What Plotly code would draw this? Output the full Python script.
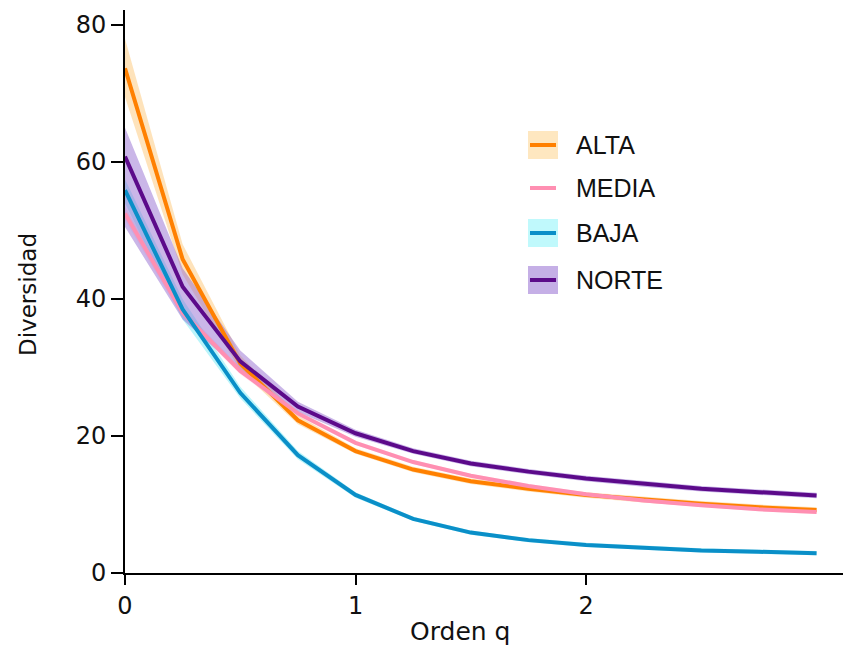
import plotly.graph_objects as go

q = [0, 0.25, 0.5, 0.75, 1.0, 1.25, 1.5, 1.75, 2.0, 2.25, 2.5, 2.75, 3.0]

alta = [73.7, 45.8, 30.6, 22.3, 17.8, 15.1, 13.4, 12.3, 11.4, 10.7, 10.1, 9.6, 9.2]
alta_lo = [69.5, 43.6, 29.6, 21.7, 17.4, 14.7, 13.0, 11.9, 11.0, 10.3, 9.7, 9.2, 8.8]
alta_hi = [78.0, 48.0, 31.8, 23.0, 18.2, 15.5, 13.8, 12.7, 11.8, 11.1, 10.5, 10.0, 9.6]

media = [52.5, 38.0, 29.5, 23.3, 19.0, 16.2, 14.2, 12.7, 11.5, 10.6, 9.9, 9.3, 8.9]
media_lo = [51.5, 37.3, 29.0, 22.9, 18.7, 15.9, 13.9, 12.4, 11.2, 10.3, 9.6, 9.0, 8.6]
media_hi = [53.5, 38.7, 30.0, 23.7, 19.3, 16.5, 14.5, 13.0, 11.8, 10.9, 10.2, 9.6, 9.2]

baja = [55.9, 38.5, 26.3, 17.2, 11.4, 7.9, 5.9, 4.8, 4.1, 3.7, 3.3, 3.1, 2.9]
baja_lo = [54.0, 37.0, 25.5, 16.6, 11.0, 7.6, 5.6, 4.5, 3.8, 3.4, 3.0, 2.8, 2.6]
baja_hi = [57.5, 40.0, 27.2, 17.8, 11.8, 8.2, 6.2, 5.1, 4.4, 4.0, 3.6, 3.4, 3.2]

norte = [60.8, 41.8, 30.9, 24.3, 20.4, 17.8, 16.0, 14.8, 13.8, 13.0, 12.3, 11.8, 11.3]
norte_lo = [50.5, 37.0, 29.5, 23.5, 19.9, 17.4, 15.6, 14.4, 13.4, 12.6, 11.9, 11.4, 10.9]
norte_hi = [65.0, 44.5, 32.5, 25.0, 20.9, 18.2, 16.4, 15.2, 14.2, 13.4, 12.7, 12.2, 11.7]

names = ["ALTA", "MEDIA", "BAJA", "NORTE"]
series = [
    (alta, alta_lo, alta_hi, "#FF8000", "rgba(253,200,120,0.5)"),
    (media, media_lo, media_hi, "#FF8FB2", "rgba(255,170,200,0.25)"),
    (baja, baja_lo, baja_hi, "#0A8FC8", "rgba(120,235,245,0.5)"),
    (norte, norte_lo, norte_hi, "#5C0A8A", "rgba(150,110,210,0.5)"),
]

fig = go.Figure()
# bands first
for name, (y, lo, hi, lc, fc) in zip(names, series):
    fig.add_trace(go.Scatter(x=q + q[::-1], y=hi + lo[::-1], fill="toself",
                             fillcolor=fc, line=dict(width=0), mode="lines",
                             hoverinfo="skip", showlegend=False))
# lines
for name, (y, lo, hi, lc, fc) in zip(names, series):
    fig.add_trace(go.Scatter(x=q, y=y, mode="lines", name=name,
                             line=dict(color=lc, width=4), showlegend=False))

# page offset (body margin 8px)
OFF = 8
W, H = 851 - OFF, 648 - OFF
plot_top, plot_bot = 10, 573   # page pixels
pl, pr = 125, 850               # page pixels
ph = plot_bot - plot_top
pw = pr - pl

def px2x(px):
    return (px - pl) / pw

def py2y(py):
    return (plot_bot - py) / ph

shapes = []
annotations = []
leg_y = [145, 188, 233, 280]
box_fill = ["rgba(253,215,150,0.6)", "rgba(0,0,0,0)", "rgba(150,245,250,0.6)", "rgba(150,110,210,0.55)"]
for i, name in enumerate(names):
    cy = leg_y[i]
    lc = series[i][3]
    if i != 1:
        shapes.append(dict(type="rect", xref="paper", yref="paper",
                           x0=px2x(528), x1=px2x(558), y0=py2y(cy + 14), y1=py2y(cy - 14),
                           fillcolor=box_fill[i], line=dict(width=0), layer="above"))
    shapes.append(dict(type="line", xref="paper", yref="paper",
                       x0=px2x(530), x1=px2x(556), y0=py2y(cy), y1=py2y(cy),
                       line=dict(color=lc, width=4), layer="above"))
    annotations.append(dict(text=name, xref="paper", yref="paper", x=px2x(574), y=py2y(cy),
                            xanchor="left", yanchor="middle", showarrow=False,
                            font=dict(family="Liberation Sans, Arial", size=25, color="#111")))

annotations.append(dict(text="Orden q", xref="paper", yref="paper", x=px2x(460), y=py2y(631),
                        xanchor="center", yanchor="middle", showarrow=False,
                        font=dict(family="DejaVu Sans", size=25, color="#111")))
annotations.append(dict(text="Diversidad", xref="paper", yref="paper", x=px2x(28), y=py2y(295),
                        xanchor="center", yanchor="middle", showarrow=False, textangle=-90,
                        font=dict(family="DejaVu Sans", size=23, color="#111")))

fig.update_layout(
    width=W, height=H,
    margin=dict(l=pl - OFF, r=W - (pr - OFF), t=plot_top - OFF, b=H - (plot_bot - OFF)),
    paper_bgcolor="white", plot_bgcolor="white",
    shapes=shapes, annotations=annotations,
    showlegend=False,
    xaxis=dict(range=[0, 3.145], tickvals=[0, 1, 2], ticktext=["0", "1", "2"],
               showgrid=False, zeroline=False, showline=True, linecolor="black", linewidth=2,
               ticks="outside", ticklen=10, tickwidth=2, tickcolor="black",
               tickfont=dict(family="DejaVu Sans", size=24, color="#111")),
    yaxis=dict(range=[0, 82.2], tickvals=[0, 20, 40, 60, 80],
               showgrid=False, zeroline=False, showline=True, linecolor="black", linewidth=2,
               ticks="outside", ticklen=12, tickwidth=2, tickcolor="black",
               tickfont=dict(family="DejaVu Sans", size=24, color="#111")),
)

fig.write_html("out.html")
